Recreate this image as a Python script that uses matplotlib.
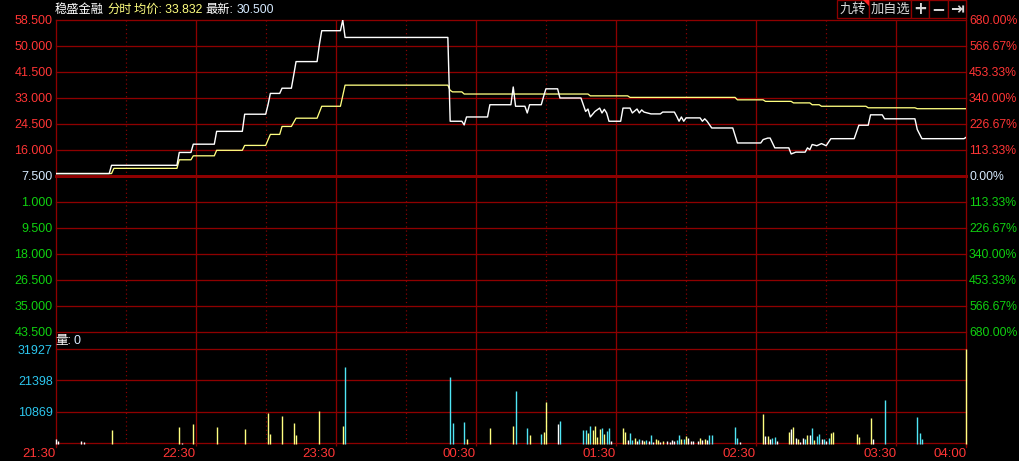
import matplotlib
matplotlib.use('Agg')
import matplotlib.pyplot as plt
from matplotlib.lines import Line2D
from matplotlib.patches import Rectangle, Polygon

# ---------------- data ----------------
stock_name = "稳盛金融"
mode_label = "分时"
avg_label = "均价: 33.832"
last_label_name = "最新:"
last_label_value = "30.500"
vol_header = "量:"
vol_header_value = "0"
base_price = 7.5
price_step = 8.5

# minutes after 21:30
price_minutes = [0, 23, 24, 52, 53, 58, 59, 68, 69, 80, 81, 90, 91, 92, 96, 97, 101, 102, 103,
                 112, 113, 114, 122, 123, 124, 168, 169, 174, 175, 176, 185, 186, 195, 196, 197,
                 201, 202, 203, 208, 209, 210, 215, 216, 225, 227, 228, 229, 231, 233, 234, 235,
                 236, 237, 242, 243, 246, 247, 249, 250, 251, 252, 255, 259, 260, 265, 266, 267,
                 268, 269, 270, 276, 277, 278, 279, 281, 290, 292, 302, 303, 305, 306, 308, 314,
                 315, 317, 321, 322, 323, 324, 326, 328, 330, 332, 342, 344, 348, 349, 354, 355,
                 368, 369, 371, 389, 390]
price_values = [8.3, 8.3, 11.0, 11.0, 15.2, 15.2, 17.9, 17.9, 22.1, 22.1, 27.7, 27.7, 30.8, 34.5,
                34.5, 36.2, 36.2, 40.5, 44.9, 44.9, 50.5, 55.0, 55.0, 58.5, 52.8, 52.8, 25.4,
                25.4, 24.2, 26.8, 26.8, 30.8, 30.8, 36.6, 30.3, 30.3, 28.1, 30.8, 30.8, 33.5,
                36.0, 36.0, 33.0, 33.0, 28.6, 29.4, 26.8, 28.6, 29.7, 28.1, 29.3, 28.1, 25.4,
                25.4, 29.7, 29.7, 28.1, 29.4, 28.1, 29.1, 28.4, 27.8, 27.8, 28.4, 28.4, 27.0,
                25.4, 26.8, 25.4, 26.5, 26.5, 25.4, 26.2, 25.4, 23.2, 23.2, 18.3, 18.3, 19.4,
                19.9, 19.9, 16.7, 16.7, 14.7, 15.3, 15.3, 16.7, 16.1, 17.8, 17.4, 18.1, 17.4,
                19.7, 19.7, 24.1, 24.1, 27.5, 27.5, 26.2, 26.2, 22.7, 19.7, 19.7, 20.2]

avg_minutes = [0, 24, 25, 52, 53, 58, 59, 68, 69, 80, 81, 90, 92, 96, 97, 101, 103, 112, 114,
               122, 124, 168, 169, 170, 174, 175, 228, 229, 245, 246, 291, 292, 303, 304, 315,
               316, 323, 324, 327, 328, 347, 348, 368, 369, 390]
avg_values = [8.3, 8.3, 10.0, 10.0, 12.8, 12.8, 14.1, 14.1, 15.9, 15.9, 17.5, 17.5, 21.1, 21.1,
              23.7, 23.7, 26.4, 26.4, 30.3, 30.3, 37.2, 37.2, 35.5, 35.0, 35.0, 34.3, 34.3,
              33.7, 33.7, 33.2, 33.2, 32.4, 32.4, 31.9, 31.9, 31.4, 31.4, 30.8, 30.8, 30.3,
              30.3, 29.8, 29.8, 29.5, 29.5]

vol_minutes = [0, 1, 11, 12, 24, 53, 54, 59, 69, 81, 91, 92, 97, 102, 103, 113, 123, 124, 169,
               170, 175, 176, 186, 196, 197, 202, 203, 208, 209, 210, 215, 216, 226, 227, 228,
               229, 230, 231, 232, 233, 234, 235, 236, 237, 238, 243, 244, 245, 246, 247, 248,
               249, 250, 251, 252, 253, 254, 255, 256, 257, 258, 259, 260, 262, 263, 264, 265,
               266, 267, 268, 269, 270, 271, 272, 273, 275, 276, 277, 278, 279, 280, 281, 291,
               292, 293, 303, 304, 305, 306, 307, 308, 309, 314, 315, 316, 317, 318, 319, 320,
               321, 322, 323, 324, 325, 326, 327, 328, 329, 330, 331, 332, 333, 343, 344, 349,
               350, 355, 369, 370, 371, 390]
vol_values = [1800, 1100, 1100, 800, 4860, 5880, 600, 6900, 5880, 5200, 10640, 3500, 9620, 7240,
              3180, 11300, 6220, 25920, 22530, 7240, 7580, 1800, 5540, 6220, 17780, 5540, 3180,
              3500, 4180, 14050, 6900, 7920, 4860, 4860, 3860, 6220, 4860, 6220, 2500, 5200,
              5540, 3500, 4520, 5540, 1000, 5540, 4180, 1500, 3860, 1500, 2160, 1100, 1800,
              1500, 1100, 1500, 1100, 3180, 800, 1800, 1500, 800, 1100, 1100, 800, 1500, 1100,
              1500, 3180, 1800, 1800, 2840, 2160, 1100, 1100, 1100, 2160, 1500, 1800, 1500,
              3180, 3180, 5880, 2160, 800, 10300, 2840, 2840, 1800, 2160, 2500, 1100, 4180,
              5200, 5880, 2160, 1800, 800, 2160, 1800, 3180, 3180, 5540, 1500, 2840, 3500,
              1800, 1800, 1100, 2160, 3860, 4180, 3500, 2500, 8940, 1800, 14730, 9280, 3860,
              1800, 31927]
# w = unchanged (white), y = up (yellow), c = down (cyan)
vol_colors = "".join([
    "wwww", "yy", "w", "yyyyyyyyyy", "cccc", "yyy", "cc", "y", "c", "yy", "w", "ccc", "y",
    "c", "yyyy", "c", "y", "cc", "w", "yy", "w", "cc", "y", "w", "c", "w", "y", "c", "w",
    "c", "w", "yy", "w", "y", "wwww", "cc", "y", "c", "y", "wwww", "y", "w", "y", "w",
    "cccc", "w", "y", "w", "y", "w", "cc", "w", "y", "w", "y", "w", "y", "ww", "c", "y",
    "w", "c", "y", "cc", "w", "c", "w", "c", "yyyyy", "w", "cccc", "y"])

time_labels = ["21:30", "22:30", "23:30", "00:30", "01:30", "02:30", "03:30", "04:00"]
time_label_minutes = [0, 60, 120, 180, 240, 300, 360, 390]
hour_minutes = [60, 120, 180, 240, 300, 360]
half_hour_minutes = [30, 90, 150, 210, 270, 330]

left_upper_labels = ["58.500", "50.000", "41.500", "33.000", "24.500", "16.000"]
left_mid_label = "7.500"
left_lower_labels = ["1.000", "9.500", "18.000", "26.500", "35.000", "43.500"]
right_upper_labels = ["680.00%", "566.67%", "453.33%", "340.00%", "226.67%", "113.33%"]
right_mid_label = "0.00%"
right_lower_labels = ["113.33%", "226.67%", "340.00%", "453.33%", "566.67%", "680.00%"]
vol_tick_values = [31927, 21398, 10869]
vol_tick_labels = ["31927", "21398", "10869"]
vol_min = 340

button_labels = ["九转", "加自选", "+", "−", "⇥"]

# ---------------- style ----------------
GRID = '#8e0000'
RED = '#ff3535'
GREEN = '#10d010'
MID = '#d6eaff'
CYAN = '#2cc6ee'
WHITE = '#ffffff'
YELLOW = '#ffff80'
BAR_COL = {'w': '#ffffff', 'y': '#ffff80', 'c': '#50e6f5'}
LATIN = 'Liberation Sans'
CJK = ['Liberation Sans', 'Noto Sans CJK SC', 'DejaVu Sans']

W_PX, H_PX = 1019, 461
fig = plt.figure(figsize=(W_PX / 100, H_PX / 100), dpi=100, facecolor='black')


def fx(x):
    return x / W_PX


def fy(y):
    return 1 - y / H_PX


LEFT, RIGHT = 55.5, 966.3
P_TOP, P_BOT = 20, 332
S_BOT = 349
V_BOT = 443.3
PX = 0.72  # one pixel in points


def add_ax(top, bot, z=0):
    ax = fig.add_axes([fx(LEFT), fy(bot), (RIGHT - LEFT) / W_PX, (bot - top) / H_PX])
    ax.set_facecolor('none')
    ax.set_zorder(z)
    ax.set_xlim(0, 390)
    for s in ax.spines.values():
        s.set_visible(False)
    ax.tick_params(left=False, bottom=False, labelleft=False, labelbottom=False)
    return ax


ax_p = add_ax(P_TOP, P_BOT, 3)
ax_s = add_ax(P_BOT, S_BOT, 3)
ax_v = add_ax(S_BOT, V_BOT, 3)

# ---- price panel ----
ymax = base_price + 6 * price_step
ymin = base_price - 6 * price_step
ax_p.set_ylim(ymin, ymax)
ticks = [base_price + price_step * k for k in range(6, -7, -1)]
for t in ticks:
    lw = 3 * PX if t == base_price else 1.3 * PX
    ax_p.axhline(t, color=GRID, lw=lw, clip_on=False, zorder=1)
for m in hour_minutes:
    ax_p.axvline(m, color=GRID, lw=1.3 * PX, zorder=1)
    ax_s.axvline(m, color=GRID, lw=1.3 * PX, zorder=1)
    ax_v.axvline(m, color=GRID, lw=1.3 * PX, zorder=1)
for m in half_hour_minutes:
    ax_p.axvline(m, color=GRID, lw=1.2 * PX, ls=(0, (1, 2.5)), zorder=1)
    ax_v.axvline(m, color=GRID, lw=1.2 * PX, ls=(0, (1, 2.5)), zorder=1)

ax_p.plot(avg_minutes, avg_values, color=YELLOW, lw=1.3 * PX, zorder=3)
ax_p.plot(price_minutes, price_values, color=WHITE, lw=1.4 * PX, zorder=4)

left_labels = left_upper_labels + [left_mid_label] + left_lower_labels
right_labels = right_upper_labels + [right_mid_label] + right_lower_labels
label_cols = [RED] * 6 + [MID] + [GREEN] * 6

ax_p.set_yticks(ticks)
ax_p.set_yticklabels(left_labels, fontfamily=LATIN, fontsize=9)
ax_p.tick_params(axis='y', left=False, labelleft=True, length=0, pad=2)
for tl, c in zip(ax_p.get_yticklabels(), label_cols):
    tl.set_color(c)

ax_r = ax_p.twinx()
for s in ax_r.spines.values():
    s.set_visible(False)
ax_r.set_ylim(ymin, ymax)
ax_r.set_yticks(ticks)
ax_r.set_yticklabels(right_labels, fontfamily=LATIN, fontsize=8.8)
ax_r.tick_params(axis='y', right=False, labelright=True, length=0, pad=2)
for tl, c in zip(ax_r.get_yticklabels(), label_cols):
    tl.set_color(c)

# ---- volume panel ----
ax_v.set_ylim(vol_min, vol_tick_values[0])
for v in vol_tick_values:
    ax_v.axhline(v, color=GRID, lw=1.3 * PX, clip_on=False, zorder=1)
ax_v.axhline(vol_min, color=GRID, lw=1.3 * PX, clip_on=False, zorder=1)
ax_v.vlines(vol_minutes, 0, vol_values, colors=[BAR_COL[c] for c in vol_colors],
            lw=1.4 * PX, zorder=3, clip_on=False)
ax_v.set_yticks(vol_tick_values)
ax_v.set_yticklabels(vol_tick_labels, fontfamily=LATIN, fontsize=9, color=CYAN)
ax_v.tick_params(axis='y', left=False, labelleft=True, length=0, pad=2)
ax_v.set_xticks(time_label_minutes)
ax_v.set_xticklabels(time_labels, fontfamily=LATIN, fontsize=9.5, color=RED, ha='right')
ax_v.tick_params(axis='x', bottom=True, labelbottom=True, length=3 * PX, width=1.3 * PX,
                 color=GRID, pad=1)

# ---- frame lines ----
fig.add_artist(Line2D([fx(LEFT), fx(LEFT)], [fy(P_TOP), fy(447)], color=GRID,
                      lw=1.3 * PX, transform=fig.transFigure, zorder=1))
fig.add_artist(Line2D([fx(RIGHT), fx(RIGHT)], [fy(0), fy(447)], color=GRID,
                      lw=1.3 * PX, transform=fig.transFigure, zorder=1))

# ---- header texts ----
renderer = fig.canvas.get_renderer()


def seq_texts(x_px, y_px, parts, size):
    x = x_px
    for s, c, gap in parts:
        t = fig.text(fx(x), fy(y_px), s, color=c, fontsize=size, family=CJK,
                     va='center', ha='left')
        x += t.get_window_extent(renderer).width + gap


seq_texts(55, 10, [(stock_name, WHITE, 3), (mode_label, YELLOW, 3),
                   (avg_label, YELLOW, 3), (last_label_name, WHITE, 3),
                   (last_label_value, MID, 0)], 8.8)
seq_texts(55, 341, [(vol_header, WHITE, 3), (vol_header_value, MID, 0)], 9)

# ---- buttons ----
btn_edges = [837, 869, 911, 929, 948, 966]
for i, lab in enumerate(button_labels):
    x0, x1 = btn_edges[i], btn_edges[i + 1]
    fig.add_artist(Rectangle((fx(x0), fy(18)), (x1 - x0) / W_PX, 18 / H_PX,
                             transform=fig.transFigure, fc='black', ec=GRID, lw=1.3 * PX))
    bold = lab in ("+", "−", "⇥")
    fig.text(fx((x0 + x1) / 2), fy(9.5), lab, color='#d8d8d8',
             fontsize=12 if bold else 9.5, fontweight='bold' if bold else 'normal',
             family=CJK if not bold else ['DejaVu Sans'], ha='center', va='center')
fig.add_artist(Polygon([(fx(863), fy(0.5)), (fx(868.5), fy(0.5)), (fx(868.5), fy(6))],
                       closed=True, transform=fig.transFigure, fc='#ff2020', ec='none'))

fig.savefig('out.png', dpi=100, facecolor='black')
